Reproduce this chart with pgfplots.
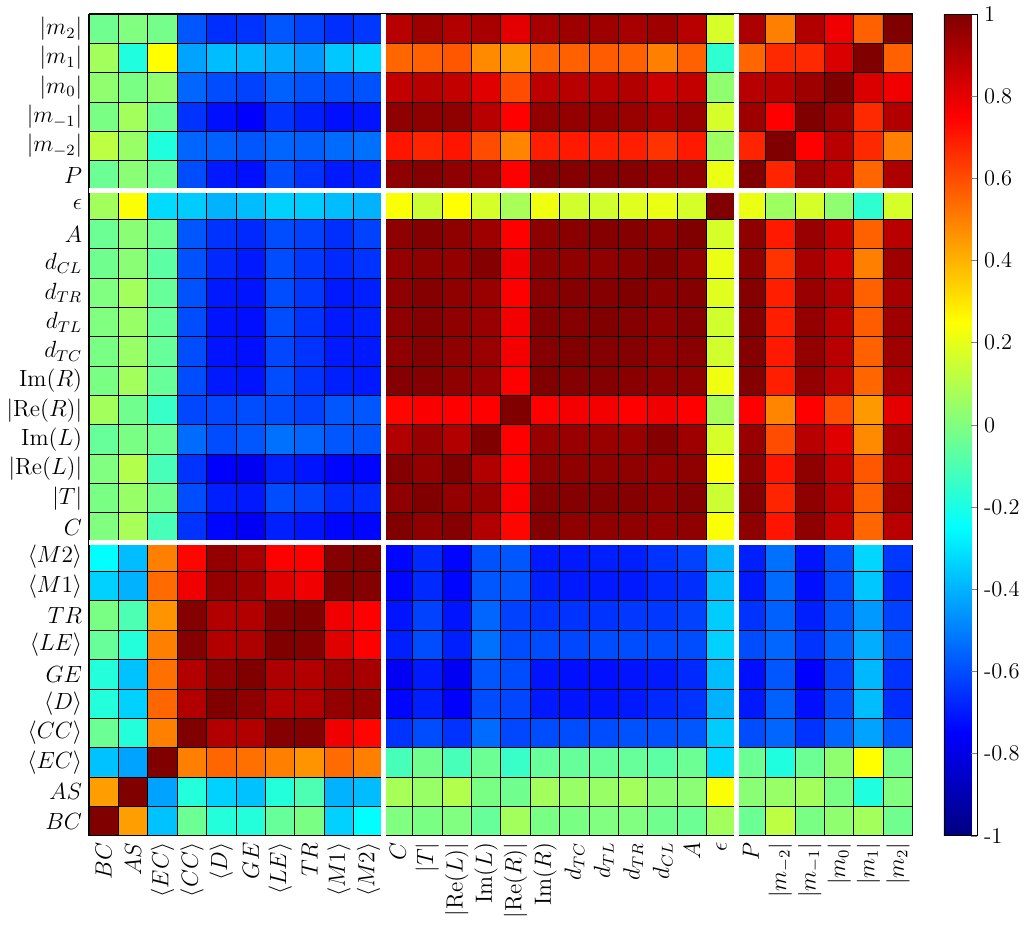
\documentclass[border=0pt]{standalone}
\usepackage{pgfplots}
\pgfplotsset{compat=1.18}
\begin{document}
\begin{tikzpicture}
% matrix plot draws row 0 at the top, so rows are listed from |m_2| (top) down to BC (bottom)
\begin{axis}[
  scale only axis, width=422pt, height=421pt,
  xmin=-0.5, xmax=27.5, ymin=-0.5, ymax=27.5,
  enlargelimits=false, axis on top,
  xtick={0,...,27}, ytick={0,...,27},
  xticklabels={{$BC$},{$AS$},{$\langle EC\rangle$},{$\langle CC\rangle$},{$\langle D\rangle$},{$GE$},{$\langle LE\rangle$},{$TR$},{$\langle M1\rangle$},{$\langle M2\rangle$},{$C$},{$|T|$},{$|\mathrm{Re}(L)|$},{$\mathrm{Im}(L)$},{$|\mathrm{Re}(R)|$},{$\mathrm{Im}(R)$},{$d_{TC}$},{$d_{TL}$},{$d_{TR}$},{$d_{CL}$},{$A$},{$\epsilon$},{$P$},{$|m_{-2}|$},{$|m_{-1}|$},{$|m_0|$},{$|m_1|$},{$|m_2|$}},
  yticklabels={{$|m_2|$},{$|m_1|$},{$|m_0|$},{$|m_{-1}|$},{$|m_{-2}|$},{$P$},{$\epsilon$},{$A$},{$d_{CL}$},{$d_{TR}$},{$d_{TL}$},{$d_{TC}$},{$\mathrm{Im}(R)$},{$|\mathrm{Re}(R)|$},{$\mathrm{Im}(L)$},{$|\mathrm{Re}(L)|$},{$|T|$},{$C$},{$\langle M2\rangle$},{$\langle M1\rangle$},{$TR$},{$\langle LE\rangle$},{$GE$},{$\langle D\rangle$},{$\langle CC\rangle$},{$\langle EC\rangle$},{$AS$},{$BC$}},
  x tick label style={rotate=90, anchor=east},
  major tick length=0pt, minor tick length=0pt,
  minor xtick={-0.5,0.5,...,27.5}, minor ytick={-0.5,0.5,...,27.5},
  xminorgrids, yminorgrids,
  minor grid style={black, line width=0.5pt},
  extra x ticks={9.5,21.5}, extra x tick labels={},
  extra y ticks={5.5,17.5}, extra y tick labels={},
  extra tick style={grid=major, major grid style={white, line width=2.5pt}, major tick length=0pt},
  ticklabel style={font=\fontsize{11.5}{13}\selectfont},
  colormap={mjet}{rgb(0pt)=(0,0,0.5); rgb(1pt)=(0,0,1); rgb(3pt)=(0,1,1); rgb(5pt)=(1,1,0); rgb(7pt)=(1,0,0); rgb(8pt)=(0.5,0,0)},
  point meta min=-1, point meta max=1,
  colorbar,
  colorbar style={
    width=17pt,
    at={(parent axis.north east)}, anchor=north west, xshift=7.5pt,
    ytick={-1,-0.8,-0.6,-0.4,-0.2,0,0.2,0.4,0.6,0.8,1},
    yticklabels={-1,-0.8,-0.6,-0.4,-0.2,0,0.2,0.4,0.6,0.8,1},
    ytick pos=right, yticklabel pos=right,
    tick align=inside, major tick length=3pt,
    yticklabel style={font=\fontsize{11.5}{13}\selectfont},
  },
]
\addplot[matrix plot, mesh/cols=28, point meta=explicit] coordinates {
(0,0)[-0.03] (1,0)[0] (2,0)[-0.02] (3,0)[-0.58] (4,0)[-0.66] (5,0)[-0.65] (6,0)[-0.58] (7,0)[-0.62] (8,0)[-0.66] (9,0)[-0.64] (10,0)[0.89] (11,0)[0.94] (12,0)[0.90] (13,0)[0.92] (14,0)[0.80] (15,0)[0.92] (16,0)[0.94] (17,0)[0.94] (18,0)[0.92] (19,0)[0.94] (20,0)[0.89] (21,0)[0.17] (22,0)[0.91] (23,0)[0.50] (24,0)[0.90] (25,0)[0.78] (26,0)[0.56] (27,0)[1]
(0,1)[0.07] (1,1)[-0.19] (2,1)[0.25] (3,1)[-0.43] (4,1)[-0.38] (5,1)[-0.39] (6,1)[-0.41] (7,1)[-0.45] (8,1)[-0.36] (9,1)[-0.33] (10,1)[0.55] (11,1)[0.56] (12,1)[0.58] (13,1)[0.48] (14,1)[0.45] (15,1)[0.55] (16,1)[0.56] (17,1)[0.57] (18,1)[0.56] (19,1)[0.50] (20,1)[0.56] (21,1)[-0.16] (22,1)[0.55] (23,1)[0.67] (24,1)[0.67] (25,1)[0.82] (26,1)[1] (27,1)[0.56]
(0,2)[0.03] (1,2)[-0.01] (2,2)[0.03] (3,2)[-0.55] (4,2)[-0.60] (5,2)[-0.62] (6,2)[-0.56] (7,2)[-0.59] (8,2)[-0.60] (9,2)[-0.59] (10,2)[0.87] (11,2)[0.89] (12,2)[0.87] (13,2)[0.81] (14,2)[0.60] (15,2)[0.88] (16,2)[0.89] (17,2)[0.89] (18,2)[0.90] (19,2)[0.85] (20,2)[0.87] (21,2)[0.03] (22,2)[0.89] (23,2)[0.89] (24,2)[0.94] (25,2)[1] (26,2)[0.82] (27,2)[0.78]
(0,3)[-0.01] (1,3)[0.07] (2,3)[-0.04] (3,3)[-0.65] (4,3)[-0.72] (5,3)[-0.75] (6,3)[-0.65] (7,3)[-0.69] (8,3)[-0.72] (9,3)[-0.71] (10,3)[0.97] (11,3)[0.97] (12,3)[0.97] (13,3)[0.89] (14,3)[0.75] (15,3)[0.96] (16,3)[0.96] (17,3)[0.96] (18,3)[0.95] (19,3)[0.92] (20,3)[0.95] (21,3)[0.17] (22,3)[0.94] (23,3)[0.75] (24,3)[1] (25,3)[0.94] (26,3)[0.67] (27,3)[0.90]
(0,4)[0.12] (1,4)[0.05] (2,4)[-0.19] (3,4)[-0.55] (4,4)[-0.56] (5,4)[-0.58] (6,4)[-0.55] (7,4)[-0.56] (8,4)[-0.54] (9,4)[-0.53] (10,4)[0.71] (11,4)[0.68] (12,4)[0.71] (13,4)[0.60] (14,4)[0.49] (15,4)[0.69] (16,4)[0.70] (17,4)[0.69] (18,4)[0.69] (19,4)[0.65] (20,4)[0.70] (21,4)[0.06] (22,4)[0.68] (23,4)[1] (24,4)[0.75] (25,4)[0.89] (26,4)[0.67] (27,4)[0.50]
(0,5)[-0.04] (1,5)[0.02] (2,5)[-0.04] (3,5)[-0.60] (4,5)[-0.70] (5,5)[-0.72] (6,5)[-0.60] (7,5)[-0.65] (8,5)[-0.70] (9,5)[-0.69] (10,5)[0.97] (11,5)[0.99] (12,5)[0.97] (13,5)[0.95] (14,5)[0.75] (15,5)[0.99] (16,5)[0.99] (17,5)[0.99] (18,5)[0.99] (19,5)[0.97] (20,5)[0.97] (21,5)[0.21] (22,5)[1] (23,5)[0.68] (24,5)[0.94] (25,5)[0.89] (26,5)[0.55] (27,5)[0.91]
(0,6)[0.07] (1,6)[0.24] (2,6)[-0.32] (3,6)[-0.35] (4,6)[-0.40] (5,6)[-0.38] (6,6)[-0.34] (7,6)[-0.35] (8,6)[-0.38] (9,6)[-0.40] (10,6)[0.24] (11,6)[0.15] (12,6)[0.25] (13,6)[0.17] (14,6)[0.08] (15,6)[0.22] (16,6)[0.16] (17,6)[0.16] (18,6)[0.19] (19,6)[0.21] (20,6)[0.17] (21,6)[1] (22,6)[0.21] (23,6)[0.06] (24,6)[0.17] (25,6)[0.03] (26,6)[-0.16] (27,6)[0.17]
(0,7)[-0.04] (1,7)[0.02] (2,7)[-0.04] (3,7)[-0.58] (4,7)[-0.65] (5,7)[-0.67] (6,7)[-0.60] (7,7)[-0.62] (8,7)[-0.66] (9,7)[-0.62] (10,7)[0.97] (11,7)[0.99] (12,7)[0.97] (13,7)[0.94] (14,7)[0.75] (15,7)[0.97] (16,7)[0.98] (17,7)[0.99] (18,7)[0.99] (19,7)[0.97] (20,7)[1] (21,7)[0.17] (22,7)[0.97] (23,7)[0.70] (24,7)[0.95] (25,7)[0.87] (26,7)[0.56] (27,7)[0.89]
(0,8)[-0.03] (1,8)[0.02] (2,8)[-0.07] (3,8)[-0.59] (4,8)[-0.67] (5,8)[-0.70] (6,8)[-0.60] (7,8)[-0.64] (8,8)[-0.67] (9,8)[-0.65] (10,8)[0.96] (11,8)[0.97] (12,8)[0.96] (13,8)[0.99] (14,8)[0.78] (15,8)[0.97] (16,8)[0.97] (17,8)[0.97] (18,8)[0.98] (19,8)[1] (20,8)[0.97] (21,8)[0.21] (22,8)[0.97] (23,8)[0.65] (24,8)[0.92] (25,8)[0.85] (26,8)[0.50] (27,8)[0.94]
(0,9)[0] (1,9)[0.07] (2,9)[-0.05] (3,9)[-0.59] (4,9)[-0.70] (5,9)[-0.71] (6,9)[-0.60] (7,9)[-0.64] (8,9)[-0.70] (9,9)[-0.69] (10,9)[0.97] (11,9)[0.99] (12,9)[0.97] (13,9)[0.95] (14,9)[0.75] (15,9)[0.98] (16,9)[0.99] (17,9)[0.99] (18,9)[1] (19,9)[0.98] (20,9)[0.99] (21,9)[0.19] (22,9)[0.99] (23,9)[0.69] (24,9)[0.95] (25,9)[0.90] (26,9)[0.56] (27,9)[0.92]
(0,10)[0] (1,10)[0.05] (2,10)[-0.05] (3,10)[-0.60] (4,10)[-0.71] (5,10)[-0.72] (6,10)[-0.60] (7,10)[-0.65] (8,10)[-0.70] (9,10)[-0.69] (10,10)[0.97] (11,10)[0.99] (12,10)[0.97] (13,10)[0.95] (14,10)[0.77] (15,10)[0.99] (16,10)[0.99] (17,10)[1] (18,10)[0.99] (19,10)[0.97] (20,10)[0.99] (21,10)[0.16] (22,10)[0.99] (23,10)[0.69] (24,10)[0.96] (25,10)[0.89] (26,10)[0.57] (27,10)[0.94]
(0,11)[-0.01] (1,11)[0.05] (2,11)[-0.05] (3,11)[-0.60] (4,11)[-0.71] (5,11)[-0.72] (6,11)[-0.61] (7,11)[-0.65] (8,11)[-0.70] (9,11)[-0.70] (10,11)[0.97] (11,11)[0.99] (12,11)[0.97] (13,11)[0.95] (14,11)[0.77] (15,11)[0.99] (16,11)[1] (17,11)[0.99] (18,11)[0.99] (19,11)[0.97] (20,11)[0.98] (21,11)[0.16] (22,11)[0.99] (23,11)[0.70] (24,11)[0.96] (25,11)[0.89] (26,11)[0.56] (27,11)[0.94]
(0,12)[-0.01] (1,12)[0.07] (2,12)[-0.05] (3,12)[-0.60] (4,12)[-0.70] (5,12)[-0.71] (6,12)[-0.60] (7,12)[-0.65] (8,12)[-0.69] (9,12)[-0.70] (10,12)[0.99] (11,12)[0.99] (12,12)[0.97] (13,12)[0.95] (14,12)[0.75] (15,12)[1] (16,12)[0.99] (17,12)[0.99] (18,12)[0.98] (19,12)[0.97] (20,12)[0.97] (21,12)[0.22] (22,12)[0.99] (23,12)[0.69] (24,12)[0.96] (25,12)[0.88] (26,12)[0.55] (27,12)[0.92]
(0,13)[0.07] (1,13)[-0.03] (2,13)[-0.14] (3,13)[-0.61] (4,13)[-0.61] (5,13)[-0.60] (6,13)[-0.60] (7,13)[-0.62] (8,13)[-0.58] (9,13)[-0.58] (10,13)[0.74] (11,13)[0.76] (12,13)[0.75] (13,13)[0.75] (14,13)[1] (15,13)[0.75] (16,13)[0.77] (17,13)[0.77] (18,13)[0.75] (19,13)[0.78] (20,13)[0.75] (21,13)[0.08] (22,13)[0.75] (23,13)[0.49] (24,13)[0.75] (25,13)[0.60] (26,13)[0.45] (27,13)[0.80]
(0,14)[-0.05] (1,14)[-0.01] (2,14)[-0.04] (3,14)[-0.54] (4,14)[-0.60] (5,14)[-0.58] (6,14)[-0.53] (7,14)[-0.55] (8,14)[-0.58] (9,14)[-0.59] (10,14)[0.90] (11,14)[0.95] (12,14)[0.90] (13,14)[1] (14,14)[0.75] (15,14)[0.95] (16,14)[0.95] (17,14)[0.95] (18,14)[0.95] (19,14)[0.99] (20,14)[0.94] (21,14)[0.17] (22,14)[0.95] (23,14)[0.60] (24,14)[0.89] (25,14)[0.81] (26,14)[0.48] (27,14)[0.92]
(0,15)[0] (1,15)[0.10] (2,15)[-0.11] (3,15)[-0.65] (4,15)[-0.75] (5,15)[-0.77] (6,15)[-0.69] (7,15)[-0.71] (8,15)[-0.74] (9,15)[-0.74] (10,15)[0.99] (11,15)[0.96] (12,15)[1] (13,15)[0.90] (14,15)[0.75] (15,15)[0.97] (16,15)[0.97] (17,15)[0.97] (18,15)[0.97] (19,15)[0.96] (20,15)[0.97] (21,15)[0.25] (22,15)[0.97] (23,15)[0.71] (24,15)[0.97] (25,15)[0.87] (26,15)[0.58] (27,15)[0.90]
(0,16)[-0.01] (1,16)[0.05] (2,16)[-0.03] (3,16)[-0.60] (4,16)[-0.69] (5,16)[-0.70] (6,16)[-0.60] (7,16)[-0.62] (8,16)[-0.67] (9,16)[-0.67] (10,16)[0.97] (11,16)[1] (12,16)[0.96] (13,16)[0.95] (14,16)[0.76] (15,16)[0.99] (16,16)[0.99] (17,16)[0.99] (18,16)[0.99] (19,16)[0.97] (20,16)[0.99] (21,16)[0.15] (22,16)[0.99] (23,16)[0.68] (24,16)[0.97] (25,16)[0.89] (26,16)[0.56] (27,16)[0.94]
(0,17)[0] (1,17)[0.08] (2,17)[-0.11] (3,17)[-0.65] (4,17)[-0.74] (5,17)[-0.77] (6,17)[-0.69] (7,17)[-0.71] (8,17)[-0.74] (9,17)[-0.74] (10,17)[1] (11,17)[0.97] (12,17)[0.99] (13,17)[0.90] (14,17)[0.74] (15,17)[0.99] (16,17)[0.97] (17,17)[0.97] (18,17)[0.97] (19,17)[0.96] (20,17)[0.97] (21,17)[0.24] (22,17)[0.97] (23,17)[0.71] (24,17)[0.97] (25,17)[0.87] (26,17)[0.55] (27,17)[0.89]
(0,18)[-0.25] (1,18)[-0.38] (2,18)[0.50] (3,18)[0.74] (4,18)[0.96] (5,18)[0.92] (6,18)[0.75] (7,18)[0.75] (8,18)[0.99] (9,18)[1] (10,18)[-0.74] (11,18)[-0.67] (12,18)[-0.74] (13,18)[-0.59] (14,18)[-0.58] (15,18)[-0.70] (16,18)[-0.70] (17,18)[-0.69] (18,18)[-0.69] (19,18)[-0.65] (20,18)[-0.62] (21,18)[-0.40] (22,18)[-0.69] (23,18)[-0.53] (24,18)[-0.71] (25,18)[-0.59] (26,18)[-0.33] (27,18)[-0.64]
(0,19)[-0.34] (1,19)[-0.40] (2,19)[0.54] (3,19)[0.78] (4,19)[0.96] (5,19)[0.94] (6,19)[0.81] (7,19)[0.78] (8,19)[1] (9,19)[0.99] (10,19)[-0.74] (11,19)[-0.67] (12,19)[-0.74] (13,19)[-0.58] (14,19)[-0.58] (15,19)[-0.69] (16,19)[-0.70] (17,19)[-0.70] (18,19)[-0.70] (19,19)[-0.67] (20,19)[-0.66] (21,19)[-0.38] (22,19)[-0.70] (23,19)[-0.54] (24,19)[-0.72] (25,19)[-0.60] (26,19)[-0.36] (27,19)[-0.66]
(0,20)[-0.01] (1,20)[-0.10] (2,20)[0.46] (3,20)[0.99] (4,20)[0.90] (5,20)[0.90] (6,20)[0.99] (7,20)[1] (8,20)[0.78] (9,20)[0.75] (10,20)[-0.71] (11,20)[-0.62] (12,20)[-0.71] (13,20)[-0.55] (14,20)[-0.62] (15,20)[-0.65] (16,20)[-0.65] (17,20)[-0.65] (18,20)[-0.64] (19,20)[-0.64] (20,20)[-0.62] (21,20)[-0.35] (22,20)[-0.65] (23,20)[-0.56] (24,20)[-0.69] (25,20)[-0.59] (26,20)[-0.45] (27,20)[-0.62]
(0,21)[-0.05] (1,21)[-0.18] (2,21)[0.50] (3,21)[0.99] (4,21)[0.90] (5,21)[0.91] (6,21)[1] (7,21)[0.99] (8,21)[0.81] (9,21)[0.75] (10,21)[-0.69] (11,21)[-0.60] (12,21)[-0.69] (13,21)[-0.53] (14,21)[-0.60] (15,21)[-0.60] (16,21)[-0.61] (17,21)[-0.60] (18,21)[-0.60] (19,21)[-0.60] (20,21)[-0.60] (21,21)[-0.34] (22,21)[-0.60] (23,21)[-0.55] (24,21)[-0.65] (25,21)[-0.56] (26,21)[-0.41] (27,21)[-0.58]
(0,22)[-0.18] (1,22)[-0.37] (2,22)[0.53] (3,22)[0.90] (4,22)[0.97] (5,22)[1] (6,22)[0.91] (7,22)[0.90] (8,22)[0.94] (9,22)[0.92] (10,22)[-0.77] (11,22)[-0.70] (12,22)[-0.77] (13,22)[-0.58] (14,22)[-0.60] (15,22)[-0.71] (16,22)[-0.72] (17,22)[-0.72] (18,22)[-0.71] (19,22)[-0.70] (20,22)[-0.67] (21,22)[-0.38] (22,22)[-0.72] (23,22)[-0.58] (24,22)[-0.75] (25,22)[-0.62] (26,22)[-0.39] (27,22)[-0.65]
(0,23)[-0.18] (1,23)[-0.34] (2,23)[0.55] (3,23)[0.90] (4,23)[1] (5,23)[0.97] (6,23)[0.90] (7,23)[0.90] (8,23)[0.96] (9,23)[0.96] (10,23)[-0.74] (11,23)[-0.69] (12,23)[-0.75] (13,23)[-0.60] (14,23)[-0.61] (15,23)[-0.70] (16,23)[-0.71] (17,23)[-0.71] (18,23)[-0.70] (19,23)[-0.67] (20,23)[-0.65] (21,23)[-0.40] (22,23)[-0.70] (23,23)[-0.56] (24,23)[-0.72] (25,23)[-0.60] (26,23)[-0.38] (27,23)[-0.66]
(0,24)[-0.04] (1,24)[-0.18] (2,24)[0.50] (3,24)[1] (4,24)[0.90] (5,24)[0.90] (6,24)[0.99] (7,24)[0.99] (8,24)[0.78] (9,24)[0.74] (10,24)[-0.65] (11,24)[-0.60] (12,24)[-0.65] (13,24)[-0.54] (14,24)[-0.61] (15,24)[-0.60] (16,24)[-0.60] (17,24)[-0.60] (18,24)[-0.59] (19,24)[-0.59] (20,24)[-0.58] (21,24)[-0.35] (22,24)[-0.60] (23,24)[-0.55] (24,24)[-0.65] (25,24)[-0.55] (26,24)[-0.43] (27,24)[-0.58]
(0,25)[-0.37] (1,25)[-0.43] (2,25)[1] (3,25)[0.50] (4,25)[0.55] (5,25)[0.53] (6,25)[0.50] (7,25)[0.46] (8,25)[0.54] (9,25)[0.50] (10,25)[-0.11] (11,25)[-0.03] (12,25)[-0.11] (13,25)[-0.04] (14,25)[-0.14] (15,25)[-0.05] (16,25)[-0.05] (17,25)[-0.05] (18,25)[-0.05] (19,25)[-0.07] (20,25)[-0.04] (21,25)[-0.32] (22,25)[-0.04] (23,25)[-0.19] (24,25)[-0.04] (25,25)[0.03] (26,25)[0.25] (27,25)[-0.02]
(0,26)[0.44] (1,26)[1] (2,26)[-0.43] (3,26)[-0.18] (4,26)[-0.34] (5,26)[-0.37] (6,26)[-0.18] (7,26)[-0.10] (8,26)[-0.40] (9,26)[-0.38] (10,26)[0.08] (11,26)[0.05] (12,26)[0.10] (13,26)[-0.01] (14,26)[-0.03] (15,26)[0.07] (16,26)[0.05] (17,26)[0.05] (18,26)[0.07] (19,26)[0.02] (20,26)[0.02] (21,26)[0.24] (22,26)[0.02] (23,26)[0.05] (24,26)[0.07] (25,26)[-0.01] (26,26)[-0.19] (27,26)[0]
(0,27)[1] (1,27)[0.44] (2,27)[-0.37] (3,27)[-0.04] (4,27)[-0.18] (5,27)[-0.18] (6,27)[-0.05] (7,27)[-0.01] (8,27)[-0.34] (9,27)[-0.25] (10,27)[0] (11,27)[-0.01] (12,27)[0] (13,27)[-0.05] (14,27)[0.07] (15,27)[-0.01] (16,27)[-0.01] (17,27)[0] (18,27)[0] (19,27)[-0.03] (20,27)[-0.04] (21,27)[0.07] (22,27)[-0.04] (23,27)[0.12] (24,27)[-0.01] (25,27)[0.03] (26,27)[0.07] (27,27)[-0.03]
};
\end{axis}
\end{tikzpicture}
\end{document}
